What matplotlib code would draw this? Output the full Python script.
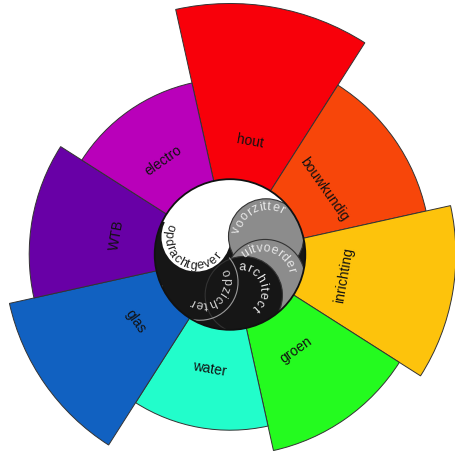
import numpy as np
import matplotlib
matplotlib.use("Agg")
import matplotlib.pyplot as plt
from matplotlib.patches import Circle, Polygon, Arc
from matplotlib.textpath import TextPath
from matplotlib.font_manager import FontProperties

plt.rcParams['font.family'] = ['Liberation Sans', 'DejaVu Sans']

# outer ring (bar length per discipline)
categories = ['hout', 'bouwkundig', 'inrichting', 'groen', 'water', 'glas', 'WTB', 'electro']
values = [10, 8, 9, 8, 7, 9, 8, 7]
colors = ['#f8000a', '#f7460a', '#fdc30c', '#24fb1f', '#22fdcb', '#1161c1', '#6800a6', '#b900ba']
start_angle = 10  # bearing of the first bar (degrees, clockwise from north)

# roles in the hub
roles = ['opdrachtgever', 'voorzitter', 'uitvoerder', 'architect', 'opzichter']
hub_r = 3

W, H = 456, 452
cx, cy = 230, 255.5   # hub centre in pixels
scale = 25.1          # pixels per unit
rmax = 11
half = rmax * scale
rect = [(cx - half) / W, (H - cy - half) / H, 2 * half / W, 2 * half / H]

fig = plt.figure(figsize=(W / 100, H / 100), dpi=100)

# polar bars
ax = fig.add_axes(rect, projection='polar')
ax.set_theta_zero_location('N')
ax.set_theta_direction(-1)
theta = np.deg2rad(start_angle + 45 * np.arange(len(values)))
ax.bar(theta, values, width=np.deg2rad(45), color=colors,
       edgecolor='#333333', linewidth=0.7)
ax.set_ylim(0, rmax)
ax.axis('off')

for t, name in zip(theta, categories):
    rot = ((-np.rad2deg(t) + 180) % 360) - 180
    if rot > 90:
        rot -= 180
    if rot < -90:
        rot += 180
    ax.text(t, 4.6, name, rotation=rot, rotation_mode='anchor',
            ha='center', va='center', fontsize=10, color='#111111')

# hub overlay
ax2 = fig.add_axes(rect)
ax2.set_xlim(-rmax, rmax)
ax2.set_ylim(-rmax, rmax)
ax2.axis('off')
ax2.patch.set_alpha(0)

hub = Circle((0, 0), hub_r, facecolor='#161616', edgecolor='none', zorder=1)
ax2.add_patch(hub)


def disc(centre, r, fc, ec='none', lw=0.8, z=2):
    p = Circle(centre, r, facecolor=fc, edgecolor=ec, linewidth=lw, zorder=z)
    ax2.add_patch(p)
    p.set_clip_path(hub)
    return p


w_c, w_r = (-1.35, 0.70), 1.38   # opdrachtgever
b_c, b_r = (1.44, 0.72), 1.5     # voorzitter
c_c, c_r = (1.4, -1.0), 1.6      # uitvoerder
a_c, a_r = (0.55, -1.62), 1.54   # architect
o_c, o_r = (-1.2, -1.1), 1.52    # opzichter

# white cap
angs = np.deg2rad(np.linspace(26.4, 153.8, 60))
cap = [(hub_r * np.cos(a), hub_r * np.sin(a)) for a in angs] + [w_c, b_c]
p = Polygon(cap, closed=True, facecolor='white', edgecolor='none', zorder=2)
ax2.add_patch(p)
p.set_clip_path(hub)
disc(w_c, w_r, 'white', z=2)
disc(b_c, b_r, '#8c8c8c', ec='#333333', z=3)
disc(c_c, c_r, '#8c8c8c', ec='#333333', z=4)
disc(a_c, a_r, '#161616', ec='#333333', z=5)
arc = Arc(o_c, 2 * o_r, 2 * o_r, theta1=185, theta2=400,
          color='#9a9a9a', linewidth=0.8, zorder=6)
ax2.add_patch(arc)
arc.set_clip_path(hub)
ax2.add_patch(Circle((0, 0), hub_r, fill=False, edgecolor='#111111',
                     linewidth=1.3, zorder=10))


def advance(ch, fp):
    both = TextPath((0, 0), '|' + ch + '|', prop=fp).get_extents().width
    bars = TextPath((0, 0), '||', prop=fp).get_extents().width
    return both - bars


def arc_text(text, centre, r, a0, a1, size, color, inward=False):
    fp = FontProperties(family='Liberation Sans', size=size)
    widths = np.array([advance(ch, fp) + 0.05 * size for ch in text])
    pos = np.cumsum(widths) - widths / 2
    frac = (pos - pos[0]) / (pos[-1] - pos[0])
    xh = 0.52 * size * 100 / 72 / scale / 2
    rb = r + xh if inward else r - xh
    for ch, f in zip(text, frac):
        a = np.deg2rad(a0 + f * (a1 - a0))
        rot = np.rad2deg(a) + 90 if inward else np.rad2deg(a) - 90
        ax2.text(centre[0] + rb * np.cos(a), centre[1] + rb * np.sin(a), ch,
                 rotation=rot, rotation_mode='anchor', ha='center',
                 va='baseline', fontsize=size, color=color, zorder=12)


arc_text(roles[0], (-1.36, 0.70), 1.12, 158, 321, 9, '#222222', inward=True)
arc_text(roles[1], (1.48, 0.70), 1.24, 166, 62, 9, '#e6e6e6')
arc_text(roles[2], (1.28, -0.9), 1.2, 124, 16, 9, '#e6e6e6')
arc_text(roles[3], (0.4, -1.38), 0.92, 85, -49, 9, '#e6e6e6')
arc_text(roles[4], (-1.08, -1.02), 0.92, 20, -115, 9, '#cccccc')

fig.savefig('out.png', dpi=100)
